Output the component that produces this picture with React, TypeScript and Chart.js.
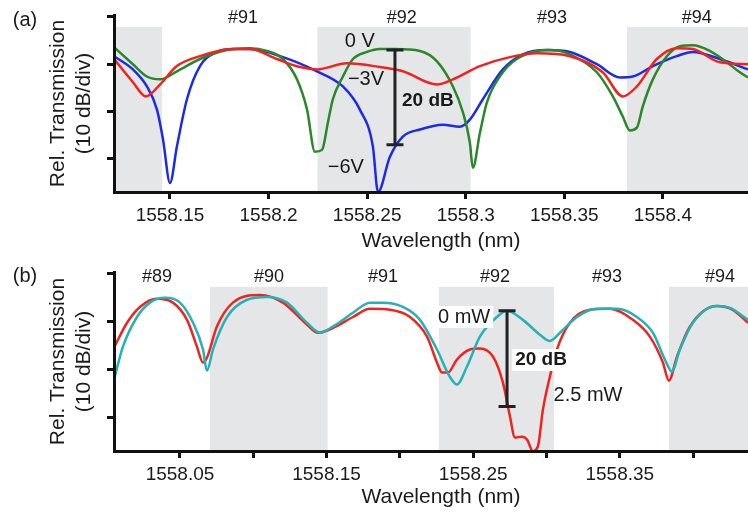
import React, { useEffect, useRef } from 'react';
import { Chart, registerables } from 'chart.js';

Chart.register(...registerables);

const FONT = '"Liberation Sans", Arial, Helvetica, sans-serif';
const TEXT = '#1a1a1a';
const AXIS = '#111111';
const SHADE = '#e5e6e8';

const RED = '#f0231e';
const GREEN = '#2a872a';
const BLUE = '#1c2ce6';
const CYAN = '#22b2b8';

// ---------- shared ----------
const yTicks = [0, -10, -20, -30];
const yMin = -37;
const yMax = 0.4;

// ---------- panel (a) ----------
const xTicksA = [1558.15, 1558.2, 1558.25, 1558.3, 1558.35, 1558.4];
const xLabelsA = ['1558.15', '1558.2', '1558.25', '1558.3', '1558.35', '1558.4'];
const shadeA: [number, number][] = [[1558.1216, 1558.146], [1558.2248, 1558.3025], [1558.3818, 1558.4533]];
const modesA: [string, number][] = [['#91', 1558.187], ['#92', 1558.2676], ['#93', 1558.3437], ['#94', 1558.4172]];

const redA: [number, number][] = [
  [1558.1216, -8.9], [1558.1312, -13.8], [1558.1378, -16.8], [1558.1449, -14.3], [1558.1535, -10.4],
  [1558.1652, -8.3], [1558.1819, -6.8], [1558.1906, -6.8], [1558.2042, -8.9], [1558.2159, -10.6],
  [1558.2245, -11.1], [1558.2397, -9.8], [1558.2565, -10.6], [1558.2681, -11.5], [1558.2854, -14.3],
  [1558.2935, -13.2], [1558.3072, -10.4], [1558.3224, -8.5], [1558.3361, -7.7], [1558.3528, -8.3],
  [1558.3695, -11.7], [1558.3797, -16.8], [1558.3868, -14.7], [1558.3969, -8.9], [1558.407, -6.6],
  [1558.4152, -6.8], [1558.4289, -9.6], [1558.4431, -10.0],
];

const greenA: [number, number][] = [
  [1558.1216, -6.4], [1558.1312, -10.0], [1558.1383, -12.6], [1558.1449, -13.2], [1558.1535, -11.5],
  [1558.1652, -8.9], [1558.1789, -7.0], [1558.1906, -6.6], [1558.1992, -7.2], [1558.2073, -8.9],
  [1558.2144, -13.2], [1558.2195, -19.6], [1558.2235, -28.5], [1558.2271, -28.1], [1558.2301, -22.3],
  [1558.2326, -17.4], [1558.2377, -12.6], [1558.2428, -8.9], [1558.2499, -7.4], [1558.2565, -6.8],
  [1558.2641, -6.8], [1558.2768, -7.2], [1558.2854, -9.4], [1558.2935, -14.7], [1558.2986, -20.2],
  [1558.3021, -26.6], [1558.3036, -31.9], [1558.3072, -24.5], [1558.3107, -18.1], [1558.3188, -11.7],
  [1558.3259, -8.9], [1558.3361, -7.2], [1558.3427, -7.0], [1558.3528, -7.9], [1558.3665, -11.7],
  [1558.3746, -16.8], [1558.3797, -21.1], [1558.3832, -24.0], [1558.3868, -23.4], [1558.3898, -18.9],
  [1558.3949, -13.2], [1558.402, -8.3], [1558.4086, -6.2], [1558.4152, -6.0], [1558.4238, -7.2],
  [1558.4324, -9.6], [1558.439, -11.7], [1558.4431, -12.8],
];

const blueA: [number, number][] = [
  [1558.1216, -8.3], [1558.1312, -11.1], [1558.1383, -14.7], [1558.1434, -19.6], [1558.1465, -26.0],
  [1558.15, -35.1], [1558.1535, -27.4], [1558.1586, -17.4], [1558.1652, -10.4], [1558.1738, -7.4],
  [1558.1819, -6.8], [1558.1906, -6.8], [1558.2073, -8.5], [1558.2245, -11.5], [1558.2377, -14.7],
  [1558.2463, -19.6], [1558.2529, -27.4], [1558.2555, -37.0], [1558.2615, -29.6], [1558.2681, -25.3],
  [1558.2768, -23.8], [1558.2884, -22.8], [1558.297, -23.2], [1558.3021, -21.7], [1558.3087, -17.4],
  [1558.3188, -11.1], [1558.329, -7.9], [1558.3411, -7.0], [1558.3528, -7.4], [1558.3665, -10.0],
  [1558.3782, -12.8], [1558.3847, -12.6], [1558.3949, -10.4], [1558.407, -8.3], [1558.4152, -7.4],
  [1558.4289, -8.9], [1558.4431, -11.1],
];

const textsA: [string, number, number][] = [['0 V', 1558.2463, -5.3], ['−3V', 1558.2494, -13.3], ['−6V', 1558.2392, -31.9]];

// ---------- panel (b) ----------
const xTicksB = [1558.05, 1558.1, 1558.15, 1558.2, 1558.25, 1558.3, 1558.35, 1558.4];
const xLabelsB = ['1558.05', '', '1558.15', '', '1558.25', '', '1558.35', ''];
const shadeB: [number, number][] = [[1558.0705, 1558.1507], [1558.2267, 1558.3051], [1558.3835, 1558.4511]];
const modesB: [string, number][] = [['#89', 1558.0343], ['#90', 1558.1107], ['#91', 1558.1885], ['#92', 1558.2649], ['#93', 1558.3413], ['#94', 1558.4184]];

const redB: [number, number][] = [
  [1558.005, -15.4], [1558.0139, -10.2], [1558.0227, -6.9], [1558.0343, -5.2], [1558.0452, -6.0],
  [1558.0548, -9.6], [1558.0616, -15.2], [1558.0657, -18.5], [1558.0684, -17.5], [1558.0752, -11.0],
  [1558.0861, -6.0], [1558.1046, -4.4], [1558.1202, -6.0], [1558.1366, -10.6], [1558.1441, -12.3],
  [1558.1543, -11.3], [1558.168, -9.0], [1558.1796, -7.3], [1558.1932, -7.5], [1558.2069, -9.0],
  [1558.2185, -13.1], [1558.2253, -18.5], [1558.2287, -20.6], [1558.2328, -20.6], [1558.2389, -17.9],
  [1558.2478, -15.8], [1558.2546, -15.6], [1558.2635, -17.3], [1558.2703, -22.7], [1558.2751, -29.8],
  [1558.2785, -34.2], [1558.2832, -34.0], [1558.2867, -34.6], [1558.2907, -37.1], [1558.2942, -36.0],
  [1558.2976, -28.3], [1558.3023, -21.5], [1558.3071, -15.8], [1558.316, -10.2], [1558.3296, -7.5],
  [1558.3433, -7.3], [1558.3589, -9.6], [1558.3705, -13.1], [1558.3794, -18.5], [1558.3835, -22.3],
  [1558.389, -17.3], [1558.3978, -11.0], [1558.4162, -6.7], [1558.4271, -7.5], [1558.4374, -10.2],
];

const cyanB: [number, number][] = [
  [1558.005, -22.1], [1558.0111, -15.2], [1558.0207, -9.0], [1558.0295, -6.0], [1558.0398, -5.0],
  [1558.05, -6.0], [1558.0589, -10.2], [1558.0657, -15.8], [1558.0684, -20.2], [1558.0725, -15.8],
  [1558.0821, -9.0], [1558.0957, -5.4], [1558.1093, -4.8], [1558.123, -6.0], [1558.1366, -10.2],
  [1558.1455, -12.3], [1558.1543, -11.0], [1558.168, -8.1], [1558.1796, -6.0], [1558.1884, -6.0],
  [1558.2021, -6.9], [1558.2137, -9.6], [1558.2253, -15.8], [1558.2341, -21.5], [1558.2389, -23.1],
  [1558.2457, -19.4], [1558.2546, -13.1], [1558.2662, -9.0], [1558.273, -7.7], [1558.2839, -9.6],
  [1558.2955, -12.7], [1558.3023, -14.0], [1558.3092, -12.3], [1558.3208, -9.0], [1558.3344, -7.3],
  [1558.348, -7.3], [1558.3617, -9.0], [1558.3726, -12.3], [1558.3808, -17.9], [1558.3855, -20.4],
  [1558.391, -15.8], [1558.3999, -10.2], [1558.4162, -6.7], [1558.4251, -7.1], [1558.4374, -9.6],
];

const textsB: [string, number, number, boolean][] = [['0 mW', 1558.2438, -9.0, true], ['2.5 mW', 1558.3283, -25.5, false]];

type Spec = {
  panel: string;
  height: number;
  padTop: number;
  xAxisHeight: number;
  xTitlePad: number;
  xMin: number;
  xMax: number;
  xTicks: number[];
  xLabels: string[];
  shade: [number, number][];
  shadeTop: number;
  modes: [string, number][];
  modeY: number;
  texts: [string, number, number, boolean?][];
  bar: { x: number; top: number; bottom: number; label: string; lx: number; ly: number; bg: boolean };
  series: { label: string; color: string; points: [number, number][] }[];
};

const specA: Spec = {
  panel: '(a)', height: 256, padTop: 15, xAxisHeight: 64, xTitlePad: 2.4,
  xMin: 1558.1216, xMax: 1558.4533, xTicks: xTicksA, xLabels: xLabelsA,
  shade: shadeA, shadeTop: -2.1, modes: modesA, modeY: -0.3, texts: textsA,
  bar: { x: 1558.2641, top: -7.0, bottom: -27.0, label: '20 dB', lx: 1558.2808, ly: -17.8, bg: false },
  series: [
    { label: '-3 V', color: RED, points: redA },
    { label: '0 V', color: GREEN, points: greenA },
    { label: '-6 V', color: BLUE, points: blueA },
  ],
};

const specB: Spec = {
  panel: '(b)', height: 257, padTop: 16, xAxisHeight: 62, xTitlePad: 3.4,
  xMin: 1558.005, xMax: 1558.4511, xTicks: xTicksB, xLabels: xLabelsB,
  shade: shadeB, shadeTop: -2.7, modes: modesB, modeY: -0.6, texts: textsB,
  bar: { x: 1558.2731, top: -7.7, bottom: -27.7, label: '20 dB', lx: 1558.2963, ly: -18.0, bg: true },
  series: [
    { label: '0 mW', color: CYAN, points: cyanB },
    { label: '2.5 mW', color: RED, points: redB },
  ],
};

function drawText(ctx: CanvasRenderingContext2D, text: string, px: number, py: number, font: string, bg?: boolean) {
  ctx.font = font;
  ctx.textAlign = 'center';
  ctx.textBaseline = 'middle';
  if (bg) {
    const w = ctx.measureText(text).width;
    ctx.fillStyle = '#ffffff';
    ctx.fillRect(px - w / 2 - 3, py - 11, w + 6, 22);
  }
  ctx.fillStyle = TEXT;
  ctx.fillText(text, px, py);
}

function decorPlugin(spec: Spec) {
  return {
    id: 'decor',
    beforeDraw(chart: any) {
      const { ctx, chartArea, scales } = chart;
      const x = scales.x;
      const y = scales.y;
      ctx.save();
      ctx.fillStyle = SHADE;
      const yt = y.getPixelForValue(spec.shadeTop);
      for (const [a, b] of spec.shade) {
        const x0 = Math.max(x.getPixelForValue(a), chartArea.left);
        const x1 = Math.min(x.getPixelForValue(b), chartArea.right);
        ctx.fillRect(x0, yt, x1 - x0, chartArea.bottom - yt);
      }
      ctx.restore();
    },
    afterDatasetsDraw(chart: any) {
      const { ctx, scales } = chart;
      const x = scales.x;
      const y = scales.y;
      ctx.save();
      // mode numbers
      for (const [t, wl] of spec.modes) {
        drawText(ctx, t, x.getPixelForValue(wl), y.getPixelForValue(spec.modeY), `18px ${FONT}`);
      }
      // 20 dB bar
      const b = spec.bar;
      const bx = x.getPixelForValue(b.x);
      const by0 = y.getPixelForValue(b.top);
      const by1 = y.getPixelForValue(b.bottom);
      ctx.strokeStyle = '#222222';
      ctx.lineWidth = 3;
      ctx.beginPath();
      ctx.moveTo(bx, by0);
      ctx.lineTo(bx, by1);
      ctx.moveTo(bx - 8.5, by0);
      ctx.lineTo(bx + 8.5, by0);
      ctx.moveTo(bx - 8.5, by1);
      ctx.lineTo(bx + 8.5, by1);
      ctx.stroke();
      drawText(ctx, b.label, x.getPixelForValue(b.lx), y.getPixelForValue(b.ly), `bold 19px ${FONT}`, b.bg);
      // curve labels
      for (const [t, wl, v, bg] of spec.texts) {
        drawText(ctx, t, x.getPixelForValue(wl), y.getPixelForValue(v), `20px ${FONT}`, bg);
      }
      // panel label
      drawText(ctx, spec.panel, 25, 20, `20px ${FONT}`);
      ctx.restore();
    },
  };
}

function buildConfig(spec: Spec): any {
  const axisGrid = { display: true, drawOnChartArea: false, drawTicks: true, tickLength: 7, color: AXIS, lineWidth: 3, z: 1 };
  const axisBorder = { display: true, color: AXIS, width: 3, z: 1 };
  return {
    type: 'line',
    data: {
      datasets: spec.series.map((s) => ({
        label: s.label,
        data: s.points.map(([px, py]) => ({ x: px, y: py })),
        borderColor: s.color,
        backgroundColor: s.color,
        borderWidth: 2.5,
        pointRadius: 0,
        fill: false,
        cubicInterpolationMode: 'monotone',
      })),
    },
    options: {
      animation: false,
      responsive: false,
      maintainAspectRatio: false,
      events: [],
      layout: { padding: { top: spec.padTop, left: 0, right: 0, bottom: 0 } },
      plugins: { legend: { display: false }, tooltip: { enabled: false }, title: { display: false } },
      scales: {
        x: {
          type: 'linear',
          min: spec.xMin,
          max: spec.xMax,
          afterBuildTicks: (s: any) => { s.ticks = spec.xTicks.map((v) => ({ value: v })); },
          afterFit: (s: any) => { s.height = spec.xAxisHeight; },
          ticks: {
            autoSkip: false, maxRotation: 0, minRotation: 0, padding: 5, color: TEXT,
            font: { family: FONT, size: 19 },
            callback: (_v: any, i: number) => spec.xLabels[i],
          },
          grid: axisGrid,
          border: axisBorder,
          title: { display: true, text: 'Wavelength (nm)', color: TEXT, font: { family: FONT, size: 21 }, padding: { top: 0, bottom: spec.xTitlePad } },
        },
        y: {
          type: 'linear',
          min: yMin,
          max: yMax,
          afterBuildTicks: (s: any) => { s.ticks = yTicks.map((v) => ({ value: v })); },
          afterFit: (s: any) => { s.width = 114; },
          ticks: { display: false },
          grid: axisGrid,
          border: axisBorder,
          title: { display: true, text: ['Rel. Transmission', '(10 dB/div)'], color: TEXT, font: { family: FONT, size: 21 }, padding: { top: 46, bottom: 0 } },
        },
      },
    },
    plugins: [decorPlugin(spec)],
  };
}

function Panel({ spec, top }: { spec: Spec; top: number }) {
  const ref = useRef<HTMLCanvasElement>(null);
  useEffect(() => {
    const chart = new Chart(ref.current as HTMLCanvasElement, buildConfig(spec));
    return () => chart.destroy();
  }, [spec]);
  return (
    <canvas
      ref={ref}
      width={768}
      height={spec.height}
      style={{ position: 'absolute', left: 0, top, width: 768, height: spec.height, display: 'block' }}
    />
  );
}

export default function App() {
  return (
    <div style={{ position: 'absolute', left: 0, top: 0, width: 748, height: 513, overflow: 'hidden', background: '#ffffff' }}>
      <Panel spec={specA} top={0} />
      <Panel spec={specB} top={256} />
    </div>
  );
}
